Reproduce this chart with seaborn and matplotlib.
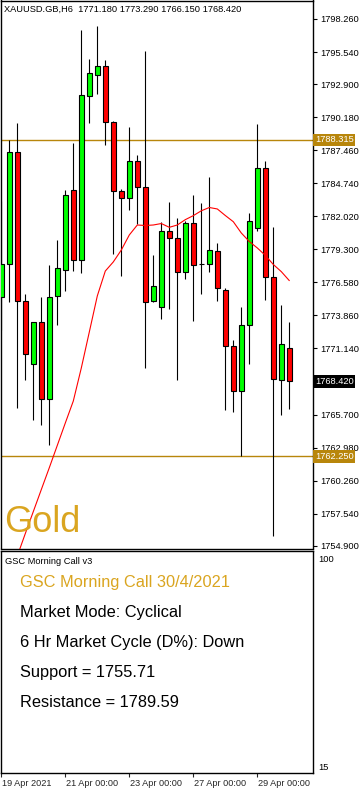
import numpy as np
import pandas as pd
import matplotlib
matplotlib.use("Agg")
import matplotlib.pyplot as plt
import matplotlib.transforms as mtransforms
import seaborn as sns

# ---------------- data ----------------
header_text = "XAUUSD.GB,H6  1771.180 1773.290 1766.150 1768.420"
candle_index = list(range(37))
opens = [1775.39, 1778.08, 1787.32, 1775.02, 1769.89, 1773.29, 1766.94, 1775.44, 1777.63, 1784.17,
         1778.39, 1791.88, 1793.64, 1794.38, 1789.76, 1784.06, 1783.49, 1786.58, 1784.40, 1775.02,
         1774.56, 1780.77, 1780.20, 1777.40, 1781.45, 1778.11, 1778.11, 1779.13, 1775.92, 1771.30,
         1767.67, 1773.03, 1781.08, 1785.96, 1777.00, 1768.53, 1771.18]
highs = [1783.27, 1788.31, 1789.70, 1775.58, 1773.34, 1775.41, 1778.02, 1780.06, 1784.20, 1788.06,
         1797.36, 1794.97, 1797.67, 1794.89, 1789.87, 1784.26, 1789.36, 1787.07, 1795.63, 1778.84,
         1781.51, 1783.18, 1781.88, 1781.59, 1783.78, 1783.12, 1785.25, 1779.81, 1776.15, 1771.84,
         1774.56, 1782.27, 1789.62, 1786.58, 1781.14, 1774.68, 1773.29]
lows = [1772.69, 1774.99, 1766.26, 1768.58, 1765.21, 1764.87, 1763.22, 1773.09, 1775.90, 1777.54,
        1777.37, 1789.67, 1792.11, 1787.92, 1778.93, 1777.09, 1782.56, 1781.37, 1769.55, 1775.00,
        1773.54, 1774.42, 1768.58, 1776.89, 1773.43, 1775.61, 1777.46, 1775.07, 1766.03, 1765.89,
        1762.29, 1769.89, 1780.83, 1775.16, 1755.68, 1765.69, 1766.15]
closes = [1778.08, 1787.32, 1775.02, 1770.71, 1773.29, 1766.94, 1775.39, 1777.77, 1783.78, 1778.45,
          1791.97, 1793.81, 1794.38, 1789.76, 1784.09, 1783.49, 1786.58, 1784.40, 1774.93, 1776.26,
          1780.77, 1780.20, 1777.40, 1781.45, 1777.99, 1778.11, 1779.21, 1776.09, 1771.30, 1767.62,
          1773.03, 1781.59, 1785.96, 1777.00, 1768.61, 1771.47, 1768.42]
ma_index = list(range(1, 37))
ma_values = [1752.20, 1754.05, 1755.90, 1757.71, 1759.52, 1761.32, 1763.16, 1765.00, 1766.81, 1769.53,
             1772.49, 1775.46, 1777.51, 1778.26, 1779.24, 1780.48, 1781.30, 1781.26, 1781.30, 1781.42,
             1781.11, 1781.30, 1781.74, 1782.07, 1782.47, 1782.74, 1782.62, 1782.08, 1781.57, 1780.64,
             1779.94, 1779.41, 1778.80, 1778.05, 1777.46, 1776.72]
price_ticks = [1754.90, 1757.54, 1760.26, 1762.98, 1765.70, 1768.42, 1771.14, 1773.86, 1776.58,
               1779.30, 1782.02, 1784.74, 1787.46, 1790.18, 1792.90, 1795.54, 1798.26]
resistance_line = 1788.315
support_line = 1762.250
last_price = 1768.420
date_tick_pos = [0, 8, 16, 24, 32]
date_tick_labels = ["19 Apr 2021", "21 Apr 00:00", "23 Apr 00:00", "27 Apr 00:00", "29 Apr 00:00"]
panel_title = "GSC Morning Call v3"
info_title = "GSC Morning Call 30/4/2021"
info_lines = ["Market Mode: Cyclical", "6 Hr Market Cycle (D%): Down",
              "Support = 1755.71", "Resistance = 1789.59"]
lower_ticks = [15, 100]

# ---------------- style ----------------
sns.set_style("white")
plt.rcParams['font.family'] = ['Liberation Sans', 'DejaVu Sans']

W, H = 361, 791
fig = plt.figure(figsize=(W / 100, H / 100), dpi=100)
fig.patch.set_facecolor("white")

def fx(px):
    return px / W

def fy(py):
    return 1 - py / H

ax = fig.add_axes([fx(0.5), fy(548.5), fx(313) - fx(0.5), fy(0.5) - fy(548.5)])
ax2 = fig.add_axes([fx(0.5), fy(773), fx(312.5) - fx(0.5), fy(551) - fy(773)])

GOLD_LINE = "#B8860B"
GOLD_TEXT = "#DAA520"

df = pd.DataFrame({"k": candle_index, "open": opens, "high": highs, "low": lows, "close": closes})
colors = np.where(df["close"] > df["open"], "#00FF00", np.where(df["close"] < df["open"], "#FF0000", "black"))

ax.vlines(df["k"], df["low"], df["high"], color="black", lw=0.8, zorder=2)
ax.bar(df["k"], df["close"] - df["open"], bottom=df["open"], width=0.55, color=colors,
       edgecolor="black", linewidth=0.8, zorder=3)

ma_df = pd.DataFrame({"k": ma_index, "ma": ma_values})
sns.lineplot(data=ma_df, x="k", y="ma", ax=ax, color="red", lw=0.8, zorder=4)

ax.axhline(resistance_line, color=GOLD_LINE, lw=1.0, zorder=1)
ax.axhline(support_line, color=GOLD_LINE, lw=1.0, zorder=1)

xl = (-0.1, 38.96)
ax.set_xlim(*xl)
ax.set_ylim(1754.67, 1799.78)
ax.set_xlabel("")
ax.set_ylabel("")
ax.set_xticks([])
ax.yaxis.tick_right()
ax.set_yticks(price_ticks)
# the last-price tag covers its own tick label, as in the terminal
ax.set_yticklabels(["" if abs(v - last_price) < 1e-6 else f"{v:.3f}" for v in price_ticks])
ax.tick_params(axis="y", right=True, length=3, width=0.8, pad=2, labelsize=6.7, colors="black")
for s in ax.spines.values():
    s.set_color("black")
    s.set_linewidth(1.0)

trans = mtransforms.blended_transform_factory(ax.transAxes, ax.transData)
for val, fc in [(resistance_line, GOLD_LINE), (support_line, GOLD_LINE), (last_price, "black")]:
    ax.text(1.006, val, f"{val:.3f}", transform=trans, ha="left", va="center", fontsize=6.7,
            color="white", zorder=10, clip_on=False,
            bbox=dict(boxstyle="square,pad=0.18", fc=fc, ec="none"))

fig.text(fx(4.5), fy(12), header_text, fontsize=6.7, color="black", ha="left", va="baseline")
fig.text(fx(4), fy(532.5), "Gold", fontsize=26, color=GOLD_TEXT, ha="left", va="baseline")

# lower panel
ax2.set_xlim(*xl)
ax2.set_ylim(12.43, 102.98)
ax2.yaxis.tick_right()
ax2.set_yticks(lower_ticks)
ax2.set_yticklabels([str(v) for v in lower_ticks])
ax2.tick_params(axis="y", right=True, length=0, pad=4, labelsize=6.7, colors="black")
ax2.set_xticks(date_tick_pos)
ax2.set_xticklabels([""] * len(date_tick_pos))
ax2.tick_params(axis="x", bottom=True, length=3, width=0.8, direction="out", pad=0)
for s in ax2.spines.values():
    s.set_color("black")
    s.set_linewidth(1.0)
trans2 = mtransforms.blended_transform_factory(ax2.transData, fig.transFigure)
for p, lab in zip(date_tick_pos, date_tick_labels):
    ax2.text(p + 0.12, fy(786), lab, transform=trans2, fontsize=6.6, ha="left", va="baseline",
             clip_on=False)

fig.text(fx(5), fy(564), panel_title, fontsize=6.7, color="black", ha="left", va="baseline")
fig.text(fx(20.5), fy(587.5), info_title, fontsize=11.8, color=GOLD_TEXT, ha="left", va="baseline")
for i, line in enumerate(info_lines):
    fig.text(fx(20.5), fy(617 + 30 * i), line, fontsize=11.8, color="black", ha="left", va="baseline")

fig.savefig("out.png", dpi=100, facecolor="white")
